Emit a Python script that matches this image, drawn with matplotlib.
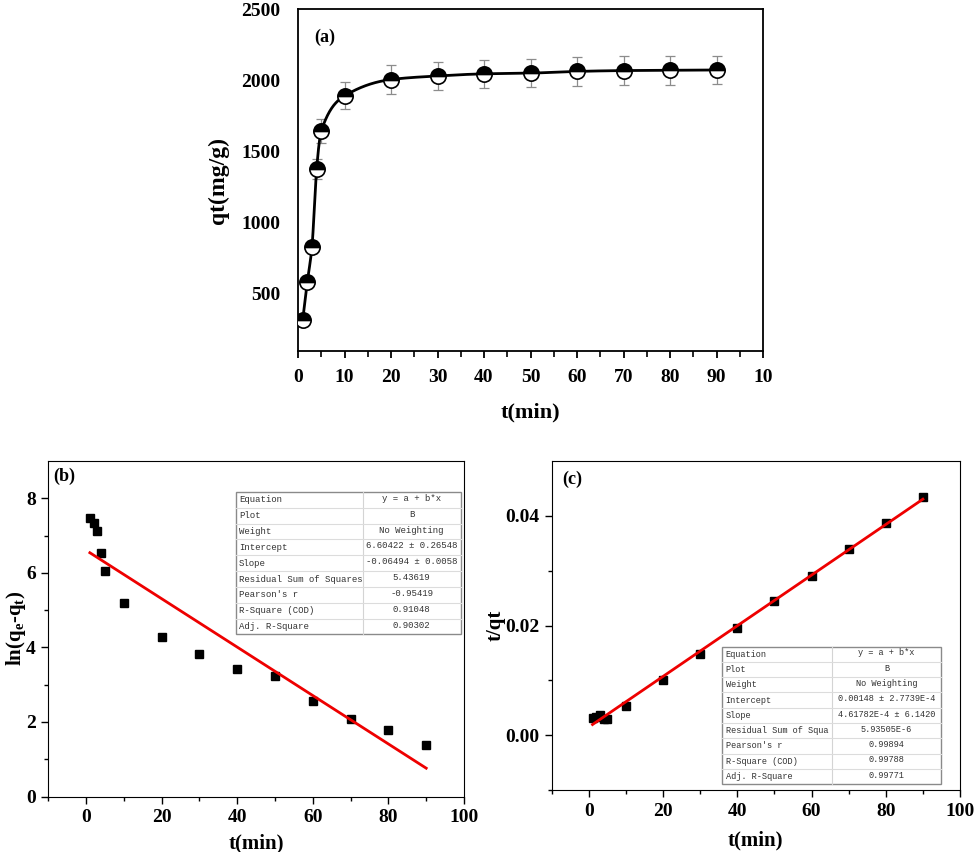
import numpy as np
import matplotlib.pyplot as plt
from matplotlib.patches import Rectangle
from matplotlib.ticker import MultipleLocator, FixedLocator

plt.rcParams['font.family'] = 'Liberation Serif'
plt.rcParams['font.weight'] = 'bold'
plt.rcParams['mathtext.fontset'] = 'custom'
plt.rcParams['mathtext.rm'] = 'Liberation Serif:bold'
plt.rcParams['mathtext.it'] = 'Liberation Serif:bold'
plt.rcParams['mathtext.bf'] = 'Liberation Serif:bold'

# data
t = [1, 2, 3, 4, 5, 10, 20, 30, 40, 50, 60, 70, 80, 90]
qt = [315, 585, 830, 1380, 1645, 1890, 2005, 2030, 2045, 2050, 2062, 2068, 2070, 2072]
qt_err = [18, 30, 42, 70, 82, 95, 100, 100, 100, 100, 100, 100, 100, 100]
ln_qe_qt = [7.46, 7.33, 7.13, 6.54, 6.06, 5.20, 4.29, 3.81, 3.41, 3.22, 2.57, 2.08, 1.79, 1.39]
t_over_qt = [0.0032, 0.0034, 0.0036, 0.0029, 0.0030, 0.0053, 0.0100, 0.0148,
             0.0196, 0.0244, 0.0291, 0.0339, 0.0387, 0.0434]

fit_b = (6.60422, -0.06494)      # intercept, slope
fit_c = (0.00148, 4.61782e-4)

rows_b = ["Equation", "Plot", "Weight", "Intercept", "Slope",
          "Residual Sum of Squares", "Pearson's r", "R-Square (COD)", "Adj. R-Square"]
vals_b = ["y = a + b*x", "B", "No Weighting", "6.60422 \u00b1 0.26548", "-0.06494 \u00b1 0.0058",
          "5.43619", "-0.95419", "0.91048", "0.90302"]
rows_c = ["Equation", "Plot", "Weight", "Intercept", "Slope",
          "Residual Sum of Squa", "Pearson's r", "R-Square (COD)", "Adj. R-Square"]
vals_c = ["y = a + b*x", "B", "No Weighting", "0.00148 \u00b1 2.7739E-4", "4.61782E-4 \u00b1 6.1420",
          "5.93505E-6", "0.99894", "0.99788", "0.99771"]

W, H = 974, 852


def px_axes(fig, l, r, top, bot):
    return fig.add_axes([l / W, 1 - bot / H, (r - l) / W, (bot - top) / H])


def pchip(x, y, xn):
    # monotone cubic through the data points, for the smooth curve in (a)
    x = np.asarray(x, float)
    y = np.asarray(y, float)
    h = np.diff(x)
    d = np.diff(y) / h
    m = np.zeros_like(y)
    for k in range(1, len(x) - 1):
        if d[k - 1] * d[k] > 0:
            w1 = 2 * h[k] + h[k - 1]
            w2 = h[k] + 2 * h[k - 1]
            m[k] = (w1 + w2) / (w1 / d[k - 1] + w2 / d[k])
    m[0] = d[0]
    m[-1] = d[-1]
    idx = np.clip(np.searchsorted(x, xn) - 1, 0, len(x) - 2)
    hh = h[idx]
    s = (xn - x[idx]) / hh
    h00 = 2 * s**3 - 3 * s**2 + 1
    h10 = s**3 - 2 * s**2 + s
    h01 = -2 * s**3 + 3 * s**2
    h11 = s**3 - s**2
    return h00 * y[idx] + h10 * hh * m[idx] + h01 * y[idx + 1] + h11 * hh * m[idx + 1]


def draw_table(ax, labels, values, x0, y0, x1, y1, split, fs):
    ax.add_patch(Rectangle((x0, y0), x1 - x0, y1 - y0, transform=ax.transAxes,
                           facecolor='white', edgecolor='#8a8a8a', lw=1.0, zorder=5))
    n = len(labels)
    h = (y1 - y0) / n
    xs = x0 + split * (x1 - x0)
    ax.plot([xs, xs], [y0, y1], transform=ax.transAxes, color='#d4d4d4', lw=0.8, zorder=6)
    for i in range(n):
        yc = y1 - (i + 0.5) * h
        if i > 0:
            ax.plot([x0, x1], [y1 - i * h] * 2, transform=ax.transAxes,
                    color='#dcdcdc', lw=0.8, zorder=6)
        ax.text(x0 + 0.008, yc, labels[i], transform=ax.transAxes, ha='left', va='center',
                family='Liberation Mono', fontweight='normal', fontsize=fs, color='#333333', zorder=7)
        ax.text((xs + x1) / 2, yc + 0.004, values[i], transform=ax.transAxes, ha='center', va='center',
                family='Liberation Mono', fontweight='normal', fontsize=fs, color='#333333', zorder=7)


fig = plt.figure(figsize=(W / 100, H / 100), dpi=100)

# ---- (a) ----
ax = px_axes(fig, 298, 763, 9, 351)
xs = np.linspace(1, 90, 600)
ax.plot(xs, pchip(t, qt, xs), color='black', lw=2.0, zorder=3)
ax.errorbar(t, qt, yerr=qt_err, fmt='none', ecolor='#8c8c8c', elinewidth=0.9,
            capsize=3.5, capthick=0.9, zorder=2)
ax.plot(t, qt, 'o', ms=11, fillstyle='top', markerfacecolor='black',
        markerfacecoloralt='white', markeredgecolor='black', markeredgewidth=1.2, zorder=4)
ax.set_xlim(0, 100)
ax.set_ylim(100, 2500)
ax.set_xticks(range(0, 101, 10))
ax.set_xticklabels([str(v) for v in range(0, 91, 10)] + ['10'])
ax.xaxis.set_minor_locator(MultipleLocator(5))
ax.set_yticks(range(500, 2501, 500))
ax.tick_params(axis='x', which='major', direction='out', length=5, width=1.3, pad=8, labelsize=14)
ax.tick_params(axis='x', which='minor', direction='out', length=4, width=1.2)
ax.tick_params(axis='y', length=0, pad=13, labelsize=14)
for s in ax.spines.values():
    s.set_linewidth(1.3)
ax.set_xlabel('t(min)', fontsize=16, fontweight='bold')
ax.xaxis.set_label_coords(0.5, -0.152)
ax.set_ylabel('qt(mg/g)', fontsize=17, fontweight='bold')
ax.yaxis.set_label_coords(-0.148, 0.5)
ax.text(0.035, 0.918, '(a)', transform=ax.transAxes, fontsize=13, fontweight='bold', va='center')

# ---- (b) ----
ax = px_axes(fig, 48.3, 464, 461, 796.5)
ax.plot(t, ln_qe_qt, 's', color='black', ms=5.5, zorder=3)
xf = np.array([t[0], t[-1]])
ax.plot(xf, fit_b[0] + fit_b[1] * xf, color='#ee0000', lw=2.0, zorder=4)
ax.set_xlim(-10, 100)
ax.set_ylim(0, 9)
ax.set_xticks(range(0, 101, 20))
ax.xaxis.set_minor_locator(FixedLocator(range(-10, 100, 20)))
ax.set_yticks(range(0, 9, 2))
ax.yaxis.set_minor_locator(FixedLocator([1, 3, 5, 7]))
ax.tick_params(which='major', direction='out', length=5, width=1.0, pad=4, labelsize=14)
ax.tick_params(which='minor', direction='out', length=3, width=1.0)
ax.set_xlabel('t(min)', fontsize=15, fontweight='bold')
ax.xaxis.set_label_coords(0.5, -0.109)
ax.set_ylabel('ln(q$_\\mathrm{e}$-q$_\\mathrm{t}$)', fontsize=15, fontweight='bold')
ax.yaxis.set_label_coords(-0.049, 0.5)
ax.text(0.012, 0.955, '(b)', transform=ax.transAxes, fontsize=13, fontweight='bold', va='center')
draw_table(ax, rows_b, vals_b, 0.451, 0.483, 0.992, 0.908, 0.564, 6.5)

# ---- (c) ----
ax = px_axes(fig, 551.7, 960, 461, 790)
ax.plot(t, t_over_qt, 's', color='black', ms=5.5, zorder=3)
ax.plot(xf, fit_c[0] + fit_c[1] * xf, color='#ee0000', lw=2.0, zorder=4)
ax.set_xlim(-10, 100)
ax.set_ylim(-0.01, 0.05)
ax.set_xticks(range(0, 101, 20))
ax.xaxis.set_minor_locator(FixedLocator(range(-10, 100, 20)))
ax.set_yticks([0.0, 0.02, 0.04])
ax.set_yticklabels(['0.00', '0.02', '0.04'])
ax.yaxis.set_minor_locator(FixedLocator([-0.01, 0.01, 0.03]))
ax.tick_params(which='major', direction='out', length=5, width=1.0, pad=4, labelsize=14)
ax.tick_params(which='minor', direction='out', length=3, width=1.0)
ax.set_xlabel('t(min)', fontsize=15, fontweight='bold')
ax.xaxis.set_label_coords(0.5, -0.122)
ax.set_ylabel('t/qt', fontsize=15, fontweight='bold')
ax.yaxis.set_label_coords(-0.114, 0.5)
ax.text(0.025, 0.945, '(c)', transform=ax.transAxes, fontsize=13, fontweight='bold', va='center')
draw_table(ax, rows_c, vals_c, 0.418, 0.018, 0.953, 0.436, 0.504, 6.2)

fig.savefig('out.png', dpi=100)
